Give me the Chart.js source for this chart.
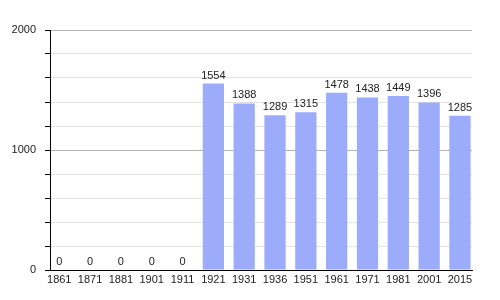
<!DOCTYPE html>
<html>
<head>
<meta charset="utf-8">
<script src="https://cdn.jsdelivr.net/npm/chart.js@4"></script>
<style>
  html, body { margin: 0; padding: 0; background: #fff; }
</style>
</head>
<body>
<canvas id="pop-chart" width="500" height="300"></canvas>
<script>
// Dados do gráfico
const years = ['1861', '1871', '1881', '1901', '1911', '1921', '1931', '1936', '1951', '1961', '1971', '1981', '2001', '2015'];
const population = [0, 0, 0, 0, 0, 1554, 1388, 1289, 1315, 1478, 1438, 1449, 1396, 1285];
const yTickLabels = [0, 1000, 2000];

const fontFamily = '"Liberation Sans", Arial, sans-serif';

// Rótulos de valor acima das barras
const valueLabels = {
    id: 'valueLabels',
    afterDatasetsDraw(chart) {
        const ctx = chart.ctx;
        const meta = chart.getDatasetMeta(0);
        ctx.save();
        ctx.font = '11px ' + fontFamily;
        ctx.fillStyle = '#222';
        ctx.textAlign = 'center';
        ctx.textBaseline = 'alphabetic';
        meta.data.forEach((bar, i) => {
            ctx.fillText(String(population[i]), bar.x, bar.y - 5);
        });
        ctx.restore();
    }
};

const popData = {
    datasets: [{
        data: population.map((v, i) => ({ x: i, y: v })),
        backgroundColor: 'rgb(157, 172, 250)',
        borderWidth: 0,
        barPercentage: 0.69,
        categoryPercentage: 1
    }]
};

const popConfig = {
    type: 'bar',
    data: popData,
    plugins: [valueLabels],
    options: {
        responsive: false,
        animation: false,
        layout: { padding: { top: 30, right: 28, left: 0, bottom: 0 } },
        plugins: {
            legend: { display: false },
            tooltip: { enabled: false }
        },
        scales: {
            x: {
                type: 'linear',
                offset: false,
                min: -0.3,
                max: 13.39,
                grid: { display: false, drawTicks: false },
                border: { color: '#000', width: 1 },
                afterBuildTicks: s => { s.ticks = years.map((_, i) => ({ value: i })); },
                afterFit: s => { s.height = 30; },
                ticks: {
                    autoSkip: false,
                    maxRotation: 0,
                    padding: 3,
                    color: '#222',
                    font: { size: 11, family: fontFamily },
                    callback: v => years[v]
                }
            },
            y: {
                min: 0,
                max: 2000,
                afterFit: s => { s.width = 50; },
                border: { color: '#000', width: 1 },
                grid: {
                    color: c => c.tick.value === 0 ? 'rgba(0,0,0,0)' :
                        (c.tick.value % 1000 === 0 ? '#b4b4b4' : '#e2e2e2'),
                    tickColor: '#000',
                    tickLength: 5
                },
                ticks: {
                    stepSize: 200,
                    padding: 9,
                    color: '#222',
                    font: { size: 11, family: fontFamily },
                    callback: v => yTickLabels.includes(v) ? String(v) : ''
                }
            }
        }
    }
};

new Chart(document.getElementById('pop-chart'), popConfig);
</script>
</body>
</html>
